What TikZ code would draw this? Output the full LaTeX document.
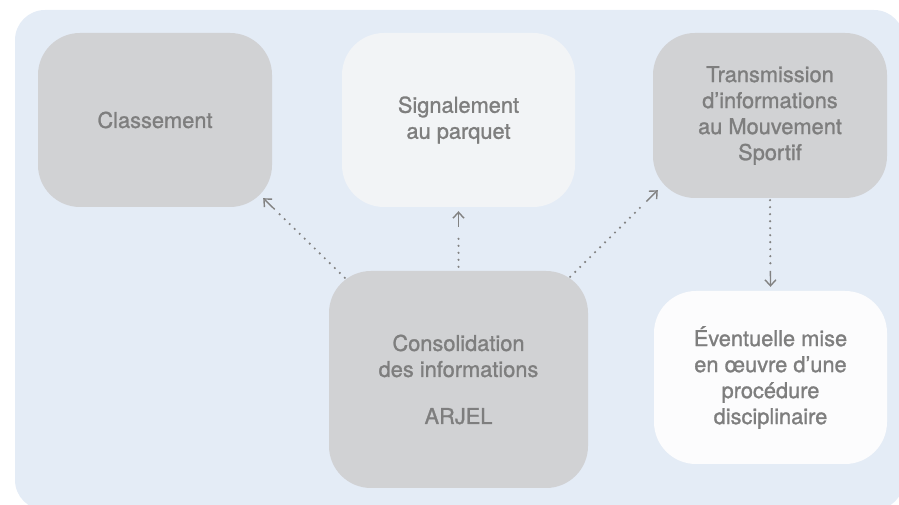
\documentclass[tikz,border=0pt]{standalone}
\usepackage{fontspec}
\setmainfont[FakeBold=1.2]{TeX Gyre Heros}
\usetikzlibrary{arrows.meta,calc}
\definecolor{panelc}{HTML}{E4ECF6}
\definecolor{boxgray}{HTML}{D1D2D4}
\definecolor{boxlight}{HTML}{F2F4F6}
\definecolor{boxwhite}{HTML}{FCFCFD}
\definecolor{txtc}{HTML}{7E7E7E}
\definecolor{arrc}{HTML}{828282}
\tikzset{
  card/.style={rounded corners=42pt, inner sep=0pt, align=center, text=txtc,
    font=\fontsize{21.8}{26}\selectfont},
  dotline/.style={draw=arrc, line width=2.4pt, dash pattern=on 0pt off 7pt, line cap=round},
  tipline/.style={draw=arrc, line width=1.4pt, -{Straight Barb[length=6pt,width=11pt]}},
}
\begin{document}
\begin{tikzpicture}[x=1pt,y=1pt]
\useasboundingbox (0,0) rectangle (899,505);
\clip (0,0) rectangle (899,505);
\fill[panelc, rounded corners=30pt] (15,-5) rectangle (904,495);

\node[card, fill=boxgray, minimum width=234pt, minimum height=174pt] (class) at (155,385) {Classement};
\node[card, fill=boxlight, minimum width=233pt, minimum height=174pt] (sig) at (458.5,385) {Signalement\\au parquet};
\node[card, fill=boxgray, minimum width=234pt, minimum height=165pt] (trans) at (770,389.5) {Transmission\\d’informations\\au Mouvement\\Sportif};
\node[card, fill=boxgray, minimum width=259pt, minimum height=217pt] (cons) at (458.5,125.5) {Consolidation\\des informations\\[21pt]ARJEL};
\node[card, fill=boxwhite, minimum width=233pt, minimum height=173pt] (ev) at (770.5,127.5) {Éventuelle mise\\en œuvre d’une\\procédure\\disciplinaire};

% connectors
\coordinate (s1) at ([shift={(16,-7)}]cons.north west);
\coordinate (t1) at ([shift={(-9,9)}]class.south east);
\draw[dotline] (s1) -- ($(t1)!22pt!(s1)$);
\draw[tipline] ($(t1)!16pt!(s1)$) -- (t1);

\coordinate (s2) at ([yshift=4]cons.north);
\coordinate (t2) at ([yshift=-4]sig.south);
\draw[dotline] (s2) -- ($(t2)!22pt!(s2)$);
\draw[tipline] ($(t2)!16pt!(s2)$) -- (t2);

\coordinate (s3) at ([shift={(-18,-6)}]cons.north east);
\coordinate (t3) at ([shift={(5,8)}]trans.south west);
\draw[dotline] (s3) -- ($(t3)!22pt!(s3)$);
\draw[tipline] ($(t3)!16pt!(s3)$) -- (t3);

\coordinate (s4) at ([yshift=-2]trans.south);
\coordinate (t4) at ([yshift=4]ev.north);
\draw[dotline] (s4) -- ($(t4)!22pt!(s4)$);
\draw[tipline] ($(t4)!16pt!(s4)$) -- (t4);
\end{tikzpicture}
\end{document}
